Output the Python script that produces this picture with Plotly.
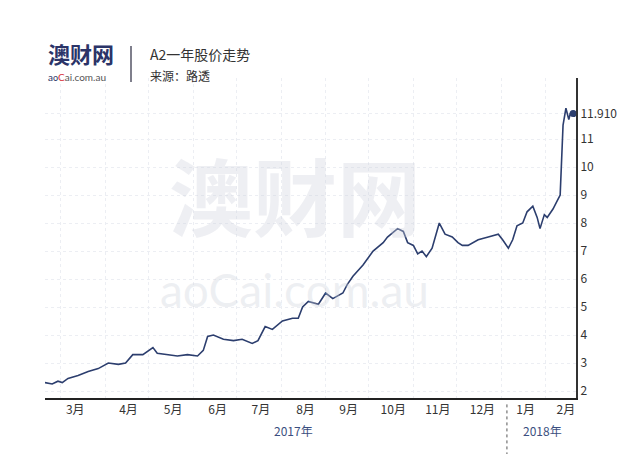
import plotly.graph_objects as go

dates = ["2017-02-18","2017-02-23","2017-02-27","2017-03-02","2017-03-06","2017-03-13","2017-03-20","2017-03-27",
"2017-04-03","2017-04-10","2017-04-15","2017-04-20","2017-04-27","2017-05-04","2017-05-07","2017-05-14","2017-05-21",
"2017-05-28","2017-06-04","2017-06-08","2017-06-11","2017-06-15","2017-06-22","2017-06-29","2017-07-05","2017-07-12",
"2017-07-16","2017-07-21","2017-07-26","2017-08-02","2017-08-09","2017-08-13","2017-08-16","2017-08-20","2017-08-27",
"2017-09-01","2017-09-06","2017-09-13","2017-09-16","2017-09-20","2017-09-27","2017-10-04","2017-10-11","2017-10-14",
"2017-10-21","2017-10-25","2017-10-28","2017-11-01","2017-11-04","2017-11-07","2017-11-10","2017-11-14","2017-11-18",
"2017-11-19","2017-11-23","2017-11-28","2017-12-02","2017-12-05","2017-12-09","2017-12-16","2017-12-23","2017-12-30",
"2018-01-02","2018-01-06","2018-01-09","2018-01-12","2018-01-16","2018-01-19","2018-01-23","2018-01-26","2018-01-28",
"2018-01-31","2018-02-02","2018-02-06","2018-02-09","2018-02-11","2018-02-13","2018-02-15","2018-02-17","2018-02-18","2018-02-20"]
prices = [2.3,2.25,2.35,2.3,2.45,2.55,2.7,2.8,3.0,2.95,3.0,3.3,3.3,3.55,3.35,3.3,3.25,3.3,3.25,3.45,3.95,4.0,3.85,3.8,
3.85,3.7,3.8,4.3,4.2,4.5,4.6,4.6,5.0,5.2,5.1,5.5,5.3,5.5,5.8,6.1,6.5,7.0,7.3,7.5,7.8,7.7,7.3,7.2,6.9,7.0,6.8,7.1,7.9,
8.0,7.6,7.5,7.3,7.2,7.2,7.4,7.5,7.6,7.4,7.1,7.4,7.9,8.0,8.4,8.6,8.2,7.8,8.3,8.2,8.5,8.8,9.0,11.5,12.1,11.7,11.9,11.91]

month_ticks = ["2017-03-11","2017-04-17","2017-05-18","2017-06-18","2017-07-18","2017-08-18","2017-09-17",
               "2017-10-18","2017-11-18","2017-12-19","2018-01-18","2018-02-15"]
month_labels = ["3月","4月","5月","6月","7月","8月","9月","10月","11月","12月","1月","2月"]
y_ticks = [2,3,4,5,6,7,8,9,10,11,11.91]
y_labels = ["2","3","4","5","6","7","8","9","10","11","11.910"]

navy = "#2c3e6e"
fig = go.Figure()
fig.add_trace(go.Scatter(x=dates, y=prices, mode="lines", line=dict(color=navy, width=1.6), hoverinfo="skip"))
fig.add_trace(go.Scatter(x=[dates[-1]], y=[prices[-1]], mode="markers", marker=dict(color=navy, size=7)))

L, R, T, B = 37, 72, 70, 64
PW, PH = 640 - L - R, 454 - T - B
fig.update_layout(
    width=640, height=454, showlegend=False, plot_bgcolor="white", paper_bgcolor="white",
    margin=dict(l=L, r=R, t=T, b=B),
    font=dict(family="Noto Sans CJK SC", color="#333"),
    xaxis=dict(type="date", range=["2017-02-18", "2018-02-22"], tickvals=month_ticks, ticktext=month_labels,
               showgrid=False, showline=True, linecolor="#222", linewidth=2, ticks="",
               tickfont=dict(size=12, color="#333"),
               minor=dict(dtick="M1", tick0="2017-03-01", showgrid=True, gridcolor="#eceef3", griddash="dot")),
    yaxis=dict(side="right", range=[1.75, 13.18], tickvals=y_ticks, ticktext=y_labels, showline=True,
               linecolor="#333", linewidth=2, ticks="", gridcolor="#eceef3", griddash="dot",
               tickfont=dict(size=12, color="#333"), zeroline=False),
)
fig.add_shape(type="line", xref="x", yref="paper", x0="2018-01-05", x1="2018-01-05", y0=-0.02, y1=-0.2,
              line=dict(color="#555", width=1, dash="dot"))
ann = [
    dict(x="2017-08-10", y=-0.135, xref="x", yref="paper", text="2017年", font=dict(size=12, color="#3b4f80")),
    dict(x="2018-01-30", y=-0.135, xref="x", yref="paper", text="2018年", font=dict(size=12, color="#3b4f80")),
    dict(x=0.47, y=0.64, xref="paper", yref="paper", text="<b>澳财网</b>", font=dict(size=84, color="rgba(205,210,220,0.35)")),
    dict(x=0.47, y=0.34, xref="paper", yref="paper", text="aoCai.com.au", font=dict(size=46, color="rgba(205,210,220,0.35)", family="Lato")),
]
for a in ann:
    a["showarrow"] = False
    fig.add_annotation(**a)

hdr = [
    dict(x=38, y=45, text="<b>澳财网</b>", font=dict(size=22, color="#2b3468")),
    dict(x=38, y=69, text="<span style='color:#2b3468'>a</span><span style='color:#2b3468;font-size:9px'>o</span><span style='color:#d8323c'>C</span><span style='color:#555'>ai.com.au</span>", font=dict(size=10, family="Lato")),
    dict(x=140, y=46, text="A2一年股价走势", font=dict(size=14, color="#333")),
    dict(x=140, y=68, text="来源：路透", font=dict(size=12, color="#333")),
]
for a in hdr:
    fig.add_annotation(xref="paper", yref="paper", xanchor="left", yanchor="middle", showarrow=False,
                       x=(a["x"] - L) / PW, y=(454 - B - a["y"]) / PH, text=a["text"], font=a["font"])
fig.add_shape(type="line", xref="paper", yref="paper", x0=(123 - L) / PW, x1=(123 - L) / PW,
              y0=(454 - B - 38) / PH, y1=(454 - B - 74) / PH, line=dict(color="#556", width=1.5))
fig.write_html("out.html")
